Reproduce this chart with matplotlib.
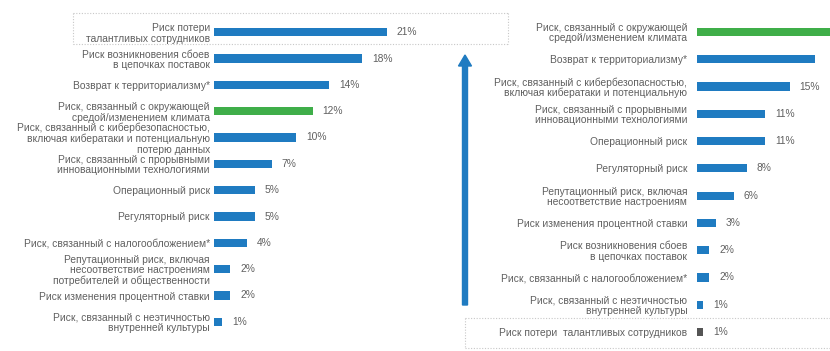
import matplotlib
matplotlib.use("Agg")
import matplotlib.pyplot as plt
from matplotlib.lines import Line2D
from matplotlib.patches import FancyArrow

plt.rcParams['font.family'] = ['Liberation Sans', 'DejaVu Sans']

left_labels = [
    "Риск потери\nталантливых сотрудников",
    "Риск возникновения сбоев\nв цепочках поставок",
    "Возврат к территориализму*",
    "Риск, связанный с окружающей\nсредой/изменением климата",
    "Риск, связанный с кибербезопасностью,\nвключая кибератаки и потенциальную\nпотерю данных",
    "Риск, связанный с прорывными\nинновационными технологиями",
    "Операционный риск",
    "Регуляторный риск",
    "Риск, связанный с налогообложением*",
    "Репутационный риск, включая\nнесоответствие настроениям\nпотребителей и общественности",
    "Риск изменения процентной ставки",
    "Риск, связанный с неэтичностью\nвнутренней культуры",
]
left_values = [21, 18, 14, 12, 10, 7, 5, 5, 4, 2, 2, 1]
left_kinds = ["b", "b", "b", "g", "b", "b", "b", "b", "b", "b", "b", "b"]

right_labels = [
    "Риск, связанный с окружающей\nсредой/изменением климата",
    "Возврат к территориализму*",
    "Риск, связанный с кибербезопасностью,\nвключая кибератаки и потенциальную",
    "Риск, связанный с прорывными\nинновационными технологиями",
    "Операционный риск",
    "Регуляторный риск",
    "Репутационный риск, включая\nнесоответствие настроениям",
    "Риск изменения процентной ставки",
    "Риск возникновения сбоев\nв цепочках поставок",
    "Риск, связанный с налогообложением*",
    "Риск, связанный с неэтичностью\nвнутренней культуры",
    "Риск потери  талантливых сотрудников",
]
right_values = [22, 19, 15, 11, 11, 8, 6, 3, 2, 2, 1, 1]
right_kinds = ["g", "b", "b", "b", "b", "b", "b", "b", "b", "b", "b", "k"]

COLORS = {"b": "#1f7bc1", "g": "#3fae49", "k": "#555555"}
TEXT = "#606060"
W, H = 830, 351
FS = 7.4

fig = plt.figure(figsize=(W / 100, H / 100), dpi=100)


def px_axes(x0, y_top, x1, y_bot):
    return fig.add_axes([x0 / W, 1 - y_bot / H, (x1 - x0) / W, (y_bot - y_top) / H])


def draw(ax, labels, values, kinds, xmax, bar_h, pad, px_per_unit, x0_px):
    n = len(values)
    ax.barh(range(n), values, height=bar_h, color=[COLORS[k] for k in kinds])
    ax.set_xlim(0, xmax)
    ax.set_ylim(n - 0.5, -0.5)
    ax.set_yticks(range(n))
    ax.set_yticklabels(labels, fontsize=FS, color=TEXT, linespacing=1.05)
    ax.tick_params(axis='y', length=0, pad=pad)
    ax.set_xticks([])
    for s in ax.spines.values():
        s.set_visible(False)
    for i, v in enumerate(values):
        # skip labels that would fall outside the (cropped) figure
        if x0_px + v * px_per_unit + 10 + 20 > W:
            continue
        ax.annotate(f"{v}%", (v, i), xytext=(7, 0), textcoords="offset points",
                    va="center", ha="left", fontsize=FS, color=TEXT,
                    annotation_clip=False)


axL = px_axes(214, 19, 420, 335)
draw(axL, left_labels, left_values, left_kinds, 25, 0.31, 3, 206 / 25, 214)

axR = px_axes(697, 18.4, 697 + 25 * 6.2, 345.6)
draw(axR, right_labels, right_values, right_kinds, 25, 0.30, 7, 6.2, 697)


def fline(xs, ys):
    fig.add_artist(Line2D([x / W for x in xs], [1 - y / H for y in ys],
                          color="#c8c8c8", lw=0.8, ls=(0, (1, 1.5))))


# dotted box around top-left item
fline([73, 508], [13, 13])
fline([73, 508], [44, 44])
fline([73, 73], [13, 44])
fline([508, 508], [13, 44])

# dotted box around bottom-right item
fline([465, 830], [318, 318])
fline([465, 830], [348, 348])
fline([465, 465], [318, 348])

# blue arrow
arrow = FancyArrow(465 / W, 1 - 305 / H, 0, (305 - 55) / H,
                   width=5 / W, head_width=13 / W, head_length=11 / H,
                   length_includes_head=True, color="#1f7bc1",
                   transform=fig.transFigure)
fig.add_artist(arrow)

fig.savefig("out.png", dpi=100)
